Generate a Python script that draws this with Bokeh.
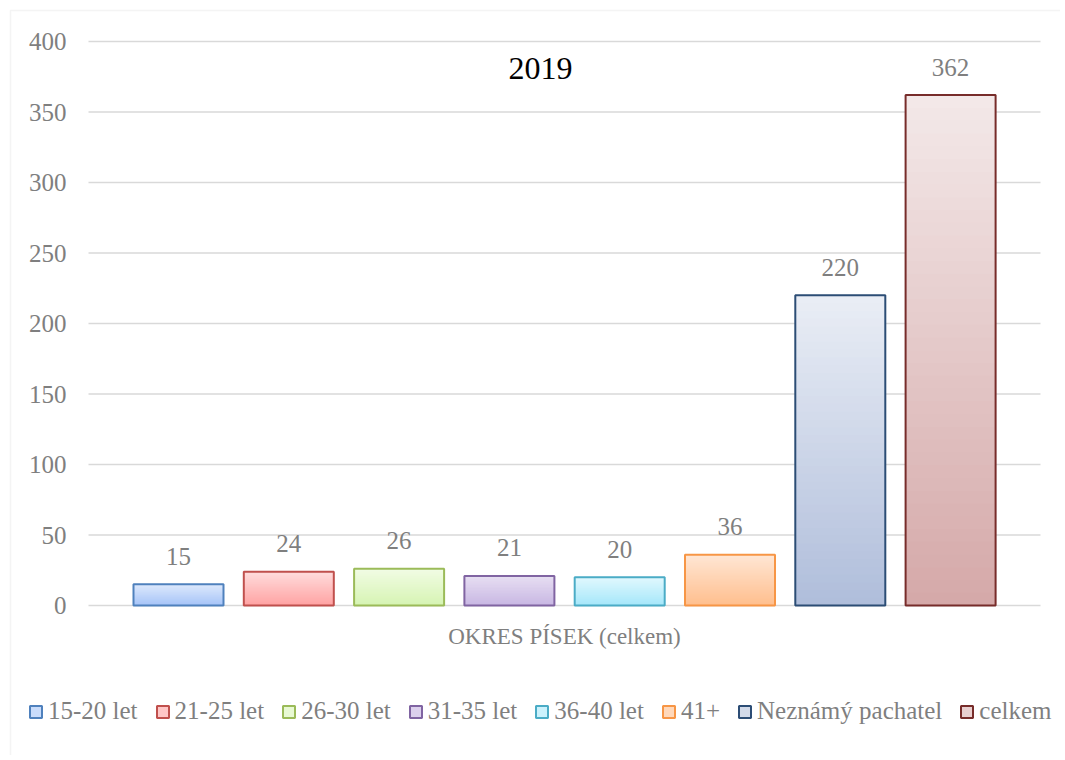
from bokeh.plotting import figure
from bokeh.models import (ColumnDataSource, Legend, LegendItem, BoxAnnotation)
from bokeh.core.properties import value
from bokeh.embed import file_html
from bokeh.resources import INLINE

# ---- data ----
categories = ["15-20 let", "21-25 let", "26-30 let", "31-35 let", "36-40 let",
              "41+", "Neznámý pachatel", "celkem"]
values = [15, 24, 26, 21, 20, 36, 220, 362]
title_text = "2019"
axis_label = "OKRES PÍSEK (celkem)"
y_ticks = [0, 50, 100, 150, 200, 250, 300, 350, 400]
y_tick_labels = [str(t) for t in y_ticks]

# ---- styles ----
border_colors = ["#4f81bd", "#c0504d", "#9bbb59", "#8064a2", "#4bacc6",
                 "#f79646", "#2c4d75", "#772c2a"]
top_colors = ["#dce8fc", "#ffdcdc", "#f1fce4", "#e7def2", "#e0f8fe",
              "#ffe6d4", "#e9edf5", "#f3e8e8"]
bottom_colors = ["#a6c4f8", "#ffa3a3", "#d6f4b3", "#c8b7e3", "#a6e7fa",
                 "#ffbf8e", "#b0bedb", "#d5a9a9"]
legend_fill = ["#c9dcfb", "#ffc6c6", "#e8f9d3", "#dcd0ed", "#cbf2fd",
               "#ffd8ba", "#d2dae9", "#e8cfcf"]
FONT = "Liberation Serif"
GRAY = "#7f7f7f"
BAR_W = 0.816

# ---- layout (pixels) ----
W, H = 1060, 755
X0_PX, X_STEP = 178.0, 110.3        # centre of first bar, bar pitch
Y400_PX, Y_SCALE = 41.0, 1.41       # pixel of 400, px per unit


def dx(px):
    return (px - X0_PX) / X_STEP


def dy(px):
    return 400 - (px - Y400_PX) / Y_SCALE


def hex2rgb(h):
    h = h.lstrip("#")
    return tuple(int(h[i:i + 2], 16) for i in (0, 2, 4))


def mix(c1, c2, t):
    a, b = hex2rgb(c1), hex2rgb(c2)
    return "#%02x%02x%02x" % tuple(round(a[i] + (b[i] - a[i]) * t) for i in range(3))


p = figure(width=W, height=H, output_backend="svg", toolbar_location=None,
           x_range=(dx(0), dx(W)), y_range=(dy(H), dy(0)),
           min_border=0, x_axis_type=None, y_axis_type=None)
p.outline_line_color = None
p.background_fill_color = "white"
p.border_fill_color = "white"
p.xgrid.visible = False
p.ygrid.visible = False

# chart border
p.add_layout(BoxAnnotation(left=10, top=10, right=W + 20, bottom=H + 20,
                           left_units="canvas", right_units="canvas",
                           top_units="canvas", bottom_units="canvas",
                           fill_alpha=0, line_color="#d9d9d9", line_width=1.5,
                           level="underlay"))

# gridlines
p.segment(x0=[dx(88)] * len(y_ticks), x1=[dx(1040)] * len(y_ticks),
          y0=y_ticks, y1=y_ticks, line_color="#d9d9d9", line_width=1.5)

# y tick labels
p.text(x=[dx(66)] * len(y_ticks), y=y_ticks, text=y_tick_labels,
       text_align="right", text_baseline="middle", text_color=GRAY,
       text_font_size="25px", text_font=value(FONT))

# gradient bars: slices from k/N to top, painted bottom-up
N = 40
lefts, rights, bottoms, tops, colors = [], [], [], [], []
for i, v in enumerate(values):
    for k in range(N):
        t = k / (N - 1)
        lefts.append(i - BAR_W / 2)
        rights.append(i + BAR_W / 2)
        bottoms.append(v * k / N)
        tops.append(v)
        colors.append(mix(bottom_colors[i], top_colors[i], t))
p.quad(left=lefts, right=rights, bottom=bottoms, top=tops, fill_color=colors,
       line_color=None)

xs = list(range(len(values)))
src = ColumnDataSource(dict(x=xs, v=values, l=[x - BAR_W / 2 for x in xs],
                            r=[x + BAR_W / 2 for x in xs], bc=border_colors,
                            lab=[str(v) for v in values]))
p.quad(left="l", right="r", bottom=0, top="v", source=src, fill_color=None,
       line_color="bc", line_width=2)

p.text(x="x", y="v", text="lab", source=src, text_align="center",
       text_baseline="alphabetic", y_offset=-28, text_color=GRAY,
       text_font_size="25px", text_font=value(FONT))

# category axis label
p.text(x=[dx(564)], y=[dy(636)], text=[axis_label], text_align="center",
       text_baseline="middle", text_color=GRAY, text_font_size="23px",
       text_font=value(FONT))

# title
p.text(x=[dx(540)], y=[dy(68)], text=[title_text], text_align="center",
       text_baseline="alphabetic", text_color="black", text_font_size="32px",
       text_font=value(FONT))

# legend: hidden proxy renderers (one per series, same bar geometry)
items = []
for i, c in enumerate(categories):
    r = p.quad(left=[i - BAR_W / 2], right=[i + BAR_W / 2], bottom=[0],
               top=[values[i]], fill_color=legend_fill[i],
               line_color=border_colors[i], line_width=2, visible=False)
    items.append(LegendItem(label=c, renderers=[r]))
legend = Legend(items=items, orientation="horizontal", location=(28, H - 725),
                glyph_width=15, glyph_height=15, label_standoff=5, spacing=17,
                padding=0, margin=0, border_line_color=None,
                background_fill_alpha=0, inactive_fill_alpha=0,
                label_text_font=FONT,
                label_text_font_size="25px", label_text_color=GRAY)
p.add_layout(legend, "center")

open("out.html", "w").write(file_html(p, INLINE))
